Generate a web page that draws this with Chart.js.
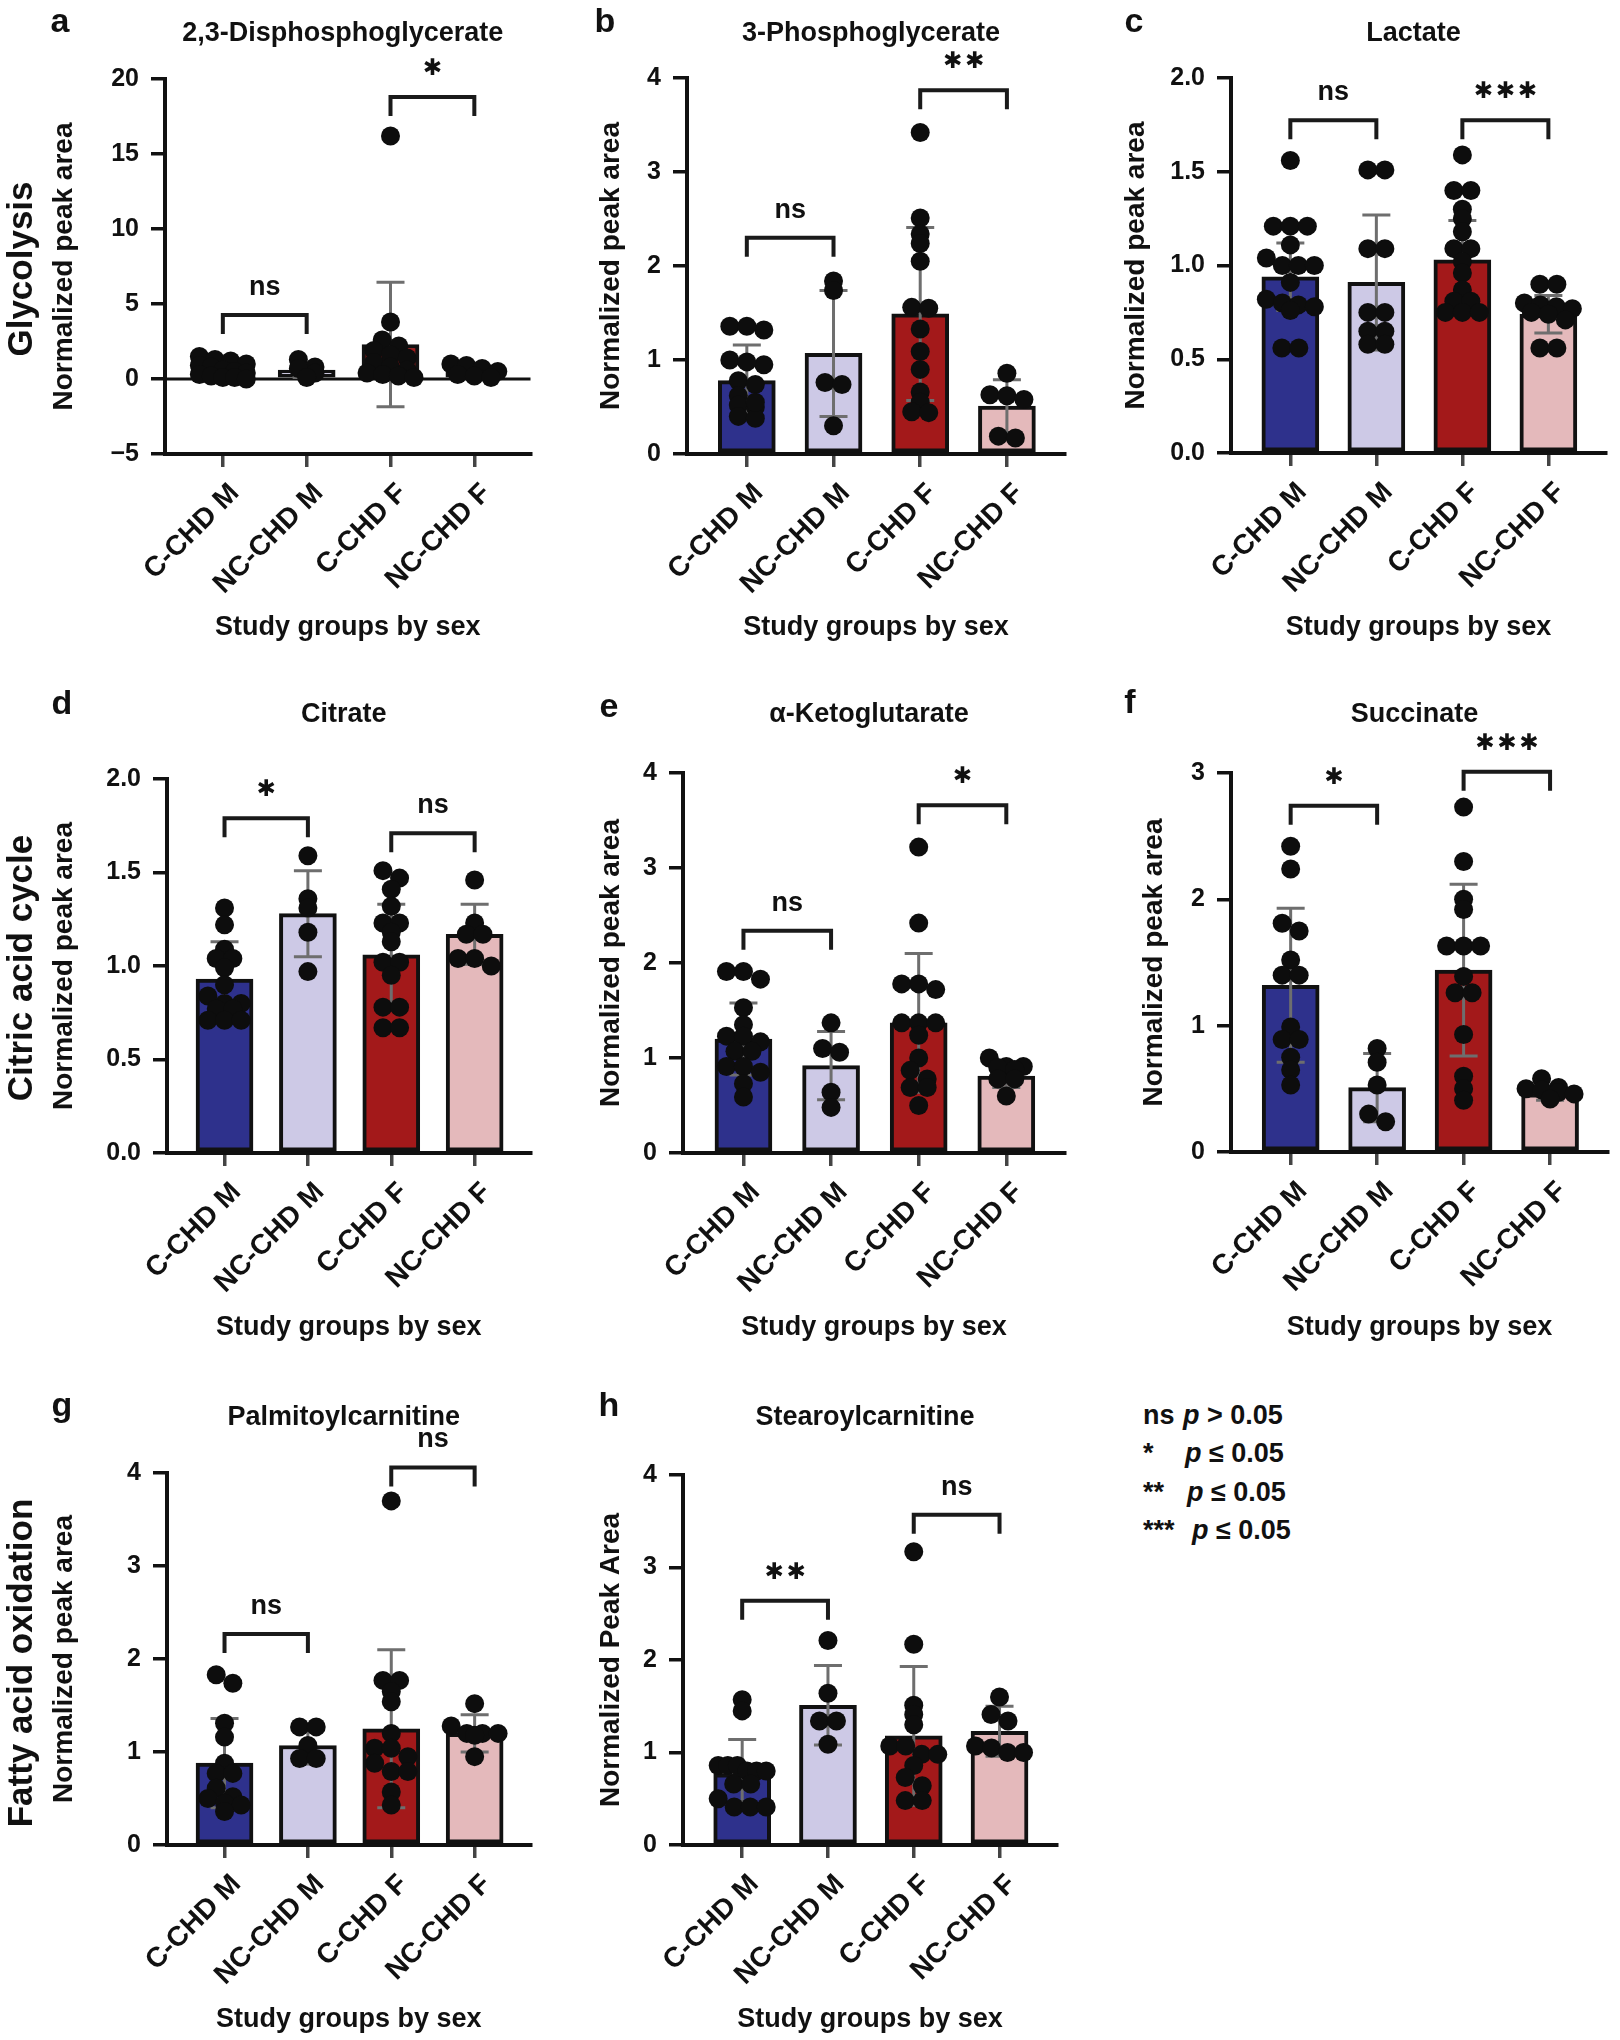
<!DOCTYPE html>
<html>
<head>
<meta charset="utf-8">
<script src="https://cdn.jsdelivr.net/npm/chart.js@4.4.1/dist/chart.umd.min.js"></script>
<style>
  body { margin: 0; background: #fff; width: 1620px; height: 2040px; position: relative; overflow: hidden; }
  .panel { position: absolute; }
  #legend { position: absolute; left: 1143px; top: 1396px; font: bold 27px 'Liberation Sans', Arial, sans-serif; line-height: 38.4px; color: #111; }
  #legend span { display: inline-block; }
</style>
</head>
<body>
<div id="legend">
  <div><span style="width:40px">ns</span><i>p</i> &gt; 0.05</div>
  <div><span style="width:42px">*</span><i>p</i> ≤ 0.05</div>
  <div><span style="width:44px">**</span><i>p</i> ≤ 0.05</div>
  <div><span style="width:49px">***</span><i>p</i> ≤ 0.05</div>
</div>
<script>
// groups + colours
const groups = ['C-CHD M', 'NC-CHD M', 'C-CHD F', 'NC-CHD F'];
const barColors = ['#2e318c', '#cdc9e6', '#a3191a', '#e4b9bb'];

// a - 2,3-DPG
const dpgMean = [0.6, 0.6, 2.3, 0.5];
const dpgSD = [0.45, 0.5, 4.15, 0.3];
const dpgPts = [
  [1.5, 1.3, 1.2, 1.0, 0.9, 0.8, 0.6, 0.5, 0.4, 0.3, 0.2, 0.1, 0.1, 0.0],
  [1.3, 0.8, 0.7, 0.4, 0.1],
  [16.2, 3.8, 2.6, 2.2, 1.9, 1.6, 1.4, 1.1, 0.8, 0.6, 0.4, 0.3, 0.2, 0.1],
  [1.0, 0.9, 0.7, 0.5, 0.3, 0.2, 0.1]
];
const dpgBrackets = [[0, 1, 4.27, 'ns'], [2, 3, 18.8, '*']];

// b - 3-PG
const pg3Mean = [0.78, 1.07, 1.49, 0.51];
const pg3SD = [0.38, 0.67, 0.92, 0.28];
const pg3Pts = [
  [1.36, 1.32, 1.36, 1.0, 0.95, 0.98, 0.78, 0.74, 0.62, 0.52, 0.5, 0.4, 0.38, 0.55],
  [1.84, 1.74, 0.76, 0.74, 0.3],
  [3.42, 2.51, 2.34, 2.24, 2.05, 1.56, 1.55, 1.33, 1.09, 0.9, 0.66, 0.55, 0.45, 0.44],
  [0.86, 0.63, 0.62, 0.58, 0.19, 0.17]
];
const pg3Brackets = [[0, 1, 2.3, 'ns'], [2, 3, 3.87, '**']];

// c - lactate
const lacMean = [0.94, 0.91, 1.03, 0.74];
const lacSD = [0.18, 0.36, 0.21, 0.1];
const lacPts = [
  [1.56, 1.21, 1.21, 1.21, 1.11, 1.04, 1.0, 1.0, 1.0, 0.91, 0.82, 0.8, 0.79, 0.78, 0.76, 0.56, 0.56],
  [1.51, 1.51, 1.09, 1.09, 0.75, 0.75, 0.65, 0.65, 0.58, 0.58],
  [1.59, 1.4, 1.4, 1.3, 1.25, 1.18, 1.09, 1.09, 1.02, 0.96, 0.87, 0.81, 0.81, 0.75, 0.75, 0.75],
  [0.9, 0.9, 0.8, 0.79, 0.78, 0.77, 0.75, 0.74, 0.71, 0.56, 0.56]
];
const lacBrackets = [[0, 1, 1.775, 'ns'], [2, 3, 1.775, '***']];

// d - citrate
const citMean = [0.93, 1.28, 1.06, 1.17];
const citSD = [0.2, 0.23, 0.27, 0.16];
const citPts = [
  [1.31, 1.22, 1.09, 1.04, 1.04, 0.99, 0.9, 0.84, 0.8, 0.8, 0.77, 0.77, 0.71, 0.71, 0.71],
  [1.59, 1.36, 1.31, 1.18, 0.97],
  [1.51, 1.47, 1.41, 1.32, 1.23, 1.23, 1.18, 1.13, 1.02, 1.02, 0.95, 0.78, 0.78, 0.67, 0.67],
  [1.46, 1.23, 1.17, 1.17, 1.04, 1.04, 1.0]
];
const citBrackets = [[0, 1, 1.79, '*'], [2, 3, 1.71, 'ns']];

// e - alpha-ketoglutarate
const akgMean = [1.2, 0.92, 1.37, 0.81];
const akgSD = [0.38, 0.36, 0.73, 0.12];
const akgPts = [
  [1.91, 1.91, 1.83, 1.53, 1.35, 1.23, 1.23, 1.17, 1.07, 1.07, 0.91, 0.91, 0.85, 0.73, 0.59],
  [1.37, 1.1, 1.06, 0.64, 0.48],
  [3.22, 2.42, 1.78, 1.78, 1.72, 1.37, 1.37, 1.37, 1.24, 1.0, 0.87, 0.78, 0.69, 0.69, 0.5],
  [1.0, 0.91, 0.91, 0.9, 0.88, 0.78, 0.78, 0.6]
];
const akgBrackets = [[0, 1, 2.34, 'ns'], [2, 3, 3.66, '*']];

// f - succinate
const sucMean = [1.32, 0.51, 1.44, 0.46];
const sucSD = [0.61, 0.27, 0.68, 0.05];
const sucPts = [
  [2.42, 2.24, 1.81, 1.75, 1.52, 1.4, 1.4, 0.99, 0.89, 0.89, 0.75, 0.65, 0.53],
  [0.82, 0.71, 0.53, 0.3, 0.24],
  [2.73, 2.3, 2.0, 1.92, 1.63, 1.63, 1.63, 1.39, 1.26, 1.26, 0.93, 0.6, 0.5, 0.41],
  [0.58, 0.51, 0.5, 0.49, 0.47, 0.46, 0.42]
];
const sucBrackets = [[0, 1, 2.74, '*'], [2, 3, 3.01, '***']];

// g - palmitoylcarnitine
const palMean = [0.88, 1.07, 1.25, 1.2];
const palSD = [0.48, 0.2, 0.85, 0.2];
const palPts = [
  [1.83, 1.74, 1.31, 1.16, 0.88, 0.77, 0.77, 0.61, 0.52, 0.5, 0.45, 0.43, 0.36],
  [1.27, 1.27, 1.07, 0.93, 0.93],
  [3.7, 1.77, 1.77, 1.65, 1.54, 1.2, 1.04, 1.04, 0.95, 0.88, 0.79, 0.79, 0.57, 0.43],
  [1.52, 1.28, 1.2, 1.2, 1.2, 1.18, 0.95]
];
const palBrackets = [[0, 1, 2.27, 'ns'], [2, 3, 4.06, 'ns']];

// h - stearoylcarnitine
const steMean = [0.77, 1.51, 1.18, 1.23];
const steSD = [0.37, 0.43, 0.75, 0.27];
const stePts = [
  [1.57, 1.45, 0.86, 0.86, 0.86, 0.8, 0.8, 0.8, 0.66, 0.66, 0.5, 0.41, 0.41, 0.41],
  [2.21, 1.64, 1.34, 1.34, 1.09],
  [3.17, 2.17, 1.51, 1.41, 1.3, 1.07, 1.07, 0.98, 0.98, 0.86, 0.73, 0.64, 0.48, 0.48],
  [1.6, 1.41, 1.34, 1.07, 1.05, 1.0, 1.0]
];
const steBrackets = [[0, 1, 2.64, '**'], [2, 3, 3.57, 'ns']];

///////////////////////////////////////////

const F = "'Liberation Sans', Arial, Helvetica, sans-serif";
const colX = [0, 540, 1080];
const rowY = [0, 680, 1380];
const rowH = [660, 680, 660];
const titleY = [34, 715, 1418];
const xTitleY = [628, 1328, 2020];
const xMin = -0.69, xMax = 3.67;

const panels = [
  {letter: 'a', letterPos: [60, 23], title: '2,3-Disphosphoglycerate', yTitle: 'Normalized peak area', rowLabel: 'Glycolysis', rowLabelY: 269,
   col: 0, row: 0, L: 165, T: 79, R: 539, B: 454, yMin: -5, yMax: 20, step: 5, dec: 0, yTitleOff: -101, zero: true,
   mean: dpgMean, sd: dpgSD, pts: dpgPts, br: dpgBrackets},
  {letter: 'b', letterPos: [605, 23], title: '3-Phosphoglycerate', yTitle: 'Normalized peak area',
   col: 1, row: 0, L: 687, T: 78, R: 1065, B: 454, yMin: 0, yMax: 4, step: 1, dec: 0, yTitleOff: -76,
   mean: pg3Mean, sd: pg3SD, pts: pg3Pts, br: pg3Brackets},
  {letter: 'c', letterPos: [1134, 23], title: 'Lactate', yTitle: 'Normalized peak area',
   col: 2, row: 0, L: 1231, T: 78, R: 1606, B: 453, yMin: 0, yMax: 2, step: 0.5, dec: 1, yTitleOff: -95,
   mean: lacMean, sd: lacSD, pts: lacPts, br: lacBrackets},
  {letter: 'd', letterPos: [62, 705], title: 'Citrate', yTitle: 'Normalized peak area', rowLabel: 'Citric acid cycle', rowLabelY: 968,
   col: 0, row: 1, L: 167, T: 779, R: 539, B: 1153, yMin: 0, yMax: 2, step: 0.5, dec: 1, yTitleOff: -103,
   mean: citMean, sd: citSD, pts: citPts, br: citBrackets},
  {letter: 'e', letterPos: [609, 708], title: 'α-Ketoglutarate', yTitle: 'Normalized peak area',
   col: 1, row: 1, L: 683, T: 773, R: 1065, B: 1153, yMin: 0, yMax: 4, step: 1, dec: 0, yTitleOff: -72,
   mean: akgMean, sd: akgSD, pts: akgPts, br: akgBrackets},
  {letter: 'f', letterPos: [1130, 704], title: 'Succinate', yTitle: 'Normalized peak area',
   col: 2, row: 1, L: 1231, T: 773, R: 1608, B: 1152, yMin: 0, yMax: 3, step: 1, dec: 0, yTitleOff: -77,
   mean: sucMean, sd: sucSD, pts: sucPts, br: sucBrackets},
  {letter: 'g', letterPos: [62, 1407], title: 'Palmitoylcarnitine', yTitle: 'Normalized peak area', rowLabel: 'Fatty acid oxidation', rowLabelY: 1663,
   col: 0, row: 2, L: 167, T: 1473, R: 539, B: 1845, yMin: 0, yMax: 4, step: 1, dec: 0, yTitleOff: -103,
   mean: palMean, sd: palSD, pts: palPts, br: palBrackets},
  {letter: 'h', letterPos: [609, 1407], title: 'Stearoylcarnitine', yTitle: 'Normalized Peak Area',
   col: 1, row: 2, L: 683, T: 1475, R: 1057, B: 1845, yMin: 0, yMax: 4, step: 1, dec: 0, yTitleOff: -72,
   mean: steMean, sd: steSD, pts: stePts, br: steBrackets},
];

// column scatter: points with (nearly) the same value go side by side in a row
function swarm(vals, pyu, pxu) {
  const out = new Array(vals.length).fill(0);
  const idx = vals.map((v, i) => i).sort((a, b) => vals[b] - vals[a]);
  const rows = [];
  let cur = null;
  idx.forEach(i => {
    if (cur && (vals[cur[0]] - vals[i]) * pyu < 9 && cur.length < 6) cur.push(i);
    else { cur = [i]; rows.push(cur); }
  });
  rows.forEach(r => {
    const n = r.length;
    const step = n > 1 ? Math.min(17, 48 / (n - 1)) : 0;
    r.forEach((i, k) => { out[i] = (k - (n - 1) / 2) * step / pxu; });
  });
  return out;
}

function txt(ctx, s, x, y, font, align, base, rot) {
  ctx.save();
  ctx.translate(x, y);
  if (rot) ctx.rotate(rot);
  ctx.font = font;
  ctx.fillStyle = '#111';
  ctx.textAlign = align;
  ctx.textBaseline = base;
  ctx.fillText(s, 0, 0);
  ctx.restore();
}

function decor(p, cx, cy) {
  return {
    id: 'decor' + p.letter,
    beforeDatasetsDraw(chart) {
      if (!p.zero) return;
      const ctx = chart.ctx, y0 = chart.scales.y.getPixelForValue(0);
      ctx.save();
      ctx.strokeStyle = '#111';
      ctx.lineWidth = 3;
      ctx.beginPath();
      ctx.moveTo(chart.chartArea.left, y0);
      ctx.lineTo(chart.chartArea.right, y0);
      ctx.stroke();
      ctx.restore();
    },
    beforeDatasetDraw(chart, args) {
      if (args.index !== 1) return;
      // error bars (mean +/- SD)
      const ctx = chart.ctx, xs = chart.scales.x, ys = chart.scales.y;
      ctx.save();
      ctx.strokeStyle = '#6e6e6e';
      ctx.lineWidth = 3;
      p.mean.forEach((m, i) => {
        const x = xs.getPixelForValue(i);
        const yt = ys.getPixelForValue(m + p.sd[i]), yb = ys.getPixelForValue(m - p.sd[i]);
        ctx.beginPath();
        ctx.moveTo(x, yt); ctx.lineTo(x, yb);
        ctx.moveTo(x - 14, yt); ctx.lineTo(x + 14, yt);
        ctx.moveTo(x - 14, yb); ctx.lineTo(x + 14, yb);
        ctx.stroke();
      });
      ctx.restore();
    },
    afterDraw(chart) {
      const ctx = chart.ctx, xs = chart.scales.x, ys = chart.scales.y, ca = chart.chartArea;
      txt(ctx, p.letter, p.letterPos[0] - cx, p.letterPos[1] - cy, 'bold 34px ' + F, 'center', 'middle');
      txt(ctx, p.title, (ca.left + ca.right) / 2 - 5, titleY[p.row] - cy, 'bold 27px ' + F, 'center', 'middle');
      if (p.rowLabel) txt(ctx, p.rowLabel, 22 - cx, p.rowLabelY - cy, 'bold 35px ' + F, 'center', 'middle', -Math.PI / 2);
      // significance brackets
      ctx.save();
      ctx.strokeStyle = '#1a1a1a';
      ctx.lineWidth = 4;
      p.br.forEach(b => {
        const xa = xs.getPixelForValue(b[0]), xb = xs.getPixelForValue(b[1]);
        const y = ys.getPixelForValue(b[2]);
        ctx.beginPath();
        ctx.moveTo(xa, y + 19); ctx.lineTo(xa, y); ctx.lineTo(xb, y); ctx.lineTo(xb, y + 19);
        ctx.stroke();
        const mid = (xa + xb) / 2;
        if (b[3] === 'ns') {
          txt(ctx, 'ns', mid, y - 20, 'bold 27px ' + F, 'center', 'alphabetic');
        } else {
          const n = b[3].length;
          for (let k = 0; k < n; k++) {
            txt(ctx, '✱', mid + (k - (n - 1) / 2) * 22, y - 28, '23px "DejaVu Sans"', 'center', 'middle');
          }
        }
      });
      ctx.restore();
    }
  };
}

function makeChart(p) {
  const cx = colX[p.col], cy = rowY[p.row], ch = rowH[p.row];
  const div = document.createElement('div');
  div.className = 'panel';
  div.style.left = cx + 'px';
  div.style.top = cy + 'px';
  const canvas = document.createElement('canvas');
  canvas.width = 540;
  canvas.height = ch;
  div.appendChild(canvas);
  document.body.appendChild(div);

  const xh = xTitleY[p.row] + 16 - p.B;
  const padBottom = cy + ch - (xTitleY[p.row] + 16);
  const yW = p.L - cx;
  const pyu = (p.B - p.T) / (p.yMax - p.yMin);
  const pxu = (p.R - p.L) / (xMax - xMin);

  const dots = [];
  p.pts.forEach((vals, g) => {
    const off = swarm(vals, pyu, pxu);
    vals.forEach((v, k) => dots.push({x: g + off[k], y: v}));
  });

  return new Chart(canvas, {
    type: 'bar',
    data: {
      datasets: [
        {type: 'bar', data: p.mean.map((m, i) => ({x: i, y: m})), backgroundColor: barColors,
         borderColor: '#111', borderWidth: 4, borderSkipped: false, barThickness: 57, order: 2},
        {type: 'scatter', data: dots, pointRadius: 9.5, pointHoverRadius: 9.5, backgroundColor: '#0d0d0d',
         borderWidth: 0, clip: false, order: 0}
      ]
    },
    options: {
      responsive: false,
      animation: false,
      events: [],
      layout: {padding: {left: 0, top: p.T - cy, right: cx + 540 - p.R, bottom: padBottom}},
      plugins: {legend: {display: false}, tooltip: {enabled: false}},
      scales: {
        x: {
          type: 'linear', min: xMin, max: xMax, offset: false,
          afterBuildTicks: s => { s.ticks = groups.map((g, i) => ({value: i})); },
          afterFit: s => { s.height = xh; },
          ticks: {autoSkip: false, minRotation: 45, maxRotation: 45, padding: 10, labelOffset: 12, color: '#111',
                  font: {family: F, size: 28, weight: 'bold'},
                  callback: v => groups[Math.round(v)]},
          grid: {drawOnChartArea: false, tickLength: 13, color: '#444', lineWidth: 3.5, offset: false},
          border: {display: true, color: '#111', width: 4},
          title: {display: true, text: 'Study groups by sex', color: '#111',
                  font: {family: F, size: 27, weight: 'bold'}, padding: {top: 0, bottom: 0}}
        },
        y: {
          type: 'linear', min: p.yMin, max: p.yMax,
          afterFit: s => { s.width = yW; },
          ticks: {stepSize: p.step, padding: 12, color: '#111', font: {family: F, size: 25, weight: 'bold'},
                  callback: v => p.dec ? v.toFixed(p.dec) : String(v).replace('-', '−')},
          grid: {drawOnChartArea: false, tickLength: 14, color: '#111', lineWidth: 3.5},
          border: {display: true, color: '#111', width: 4},
          title: {display: true, text: p.yTitle, color: '#111', font: {family: F, size: 28, weight: 'bold'},
                  padding: {top: p.L + p.yTitleOff - cx - 16.8, bottom: 0}}
        }
      }
    },
    plugins: [decor(p, cx, cy)]
  });
}

panels.forEach(makeChart);
</script>
</body>
</html>
